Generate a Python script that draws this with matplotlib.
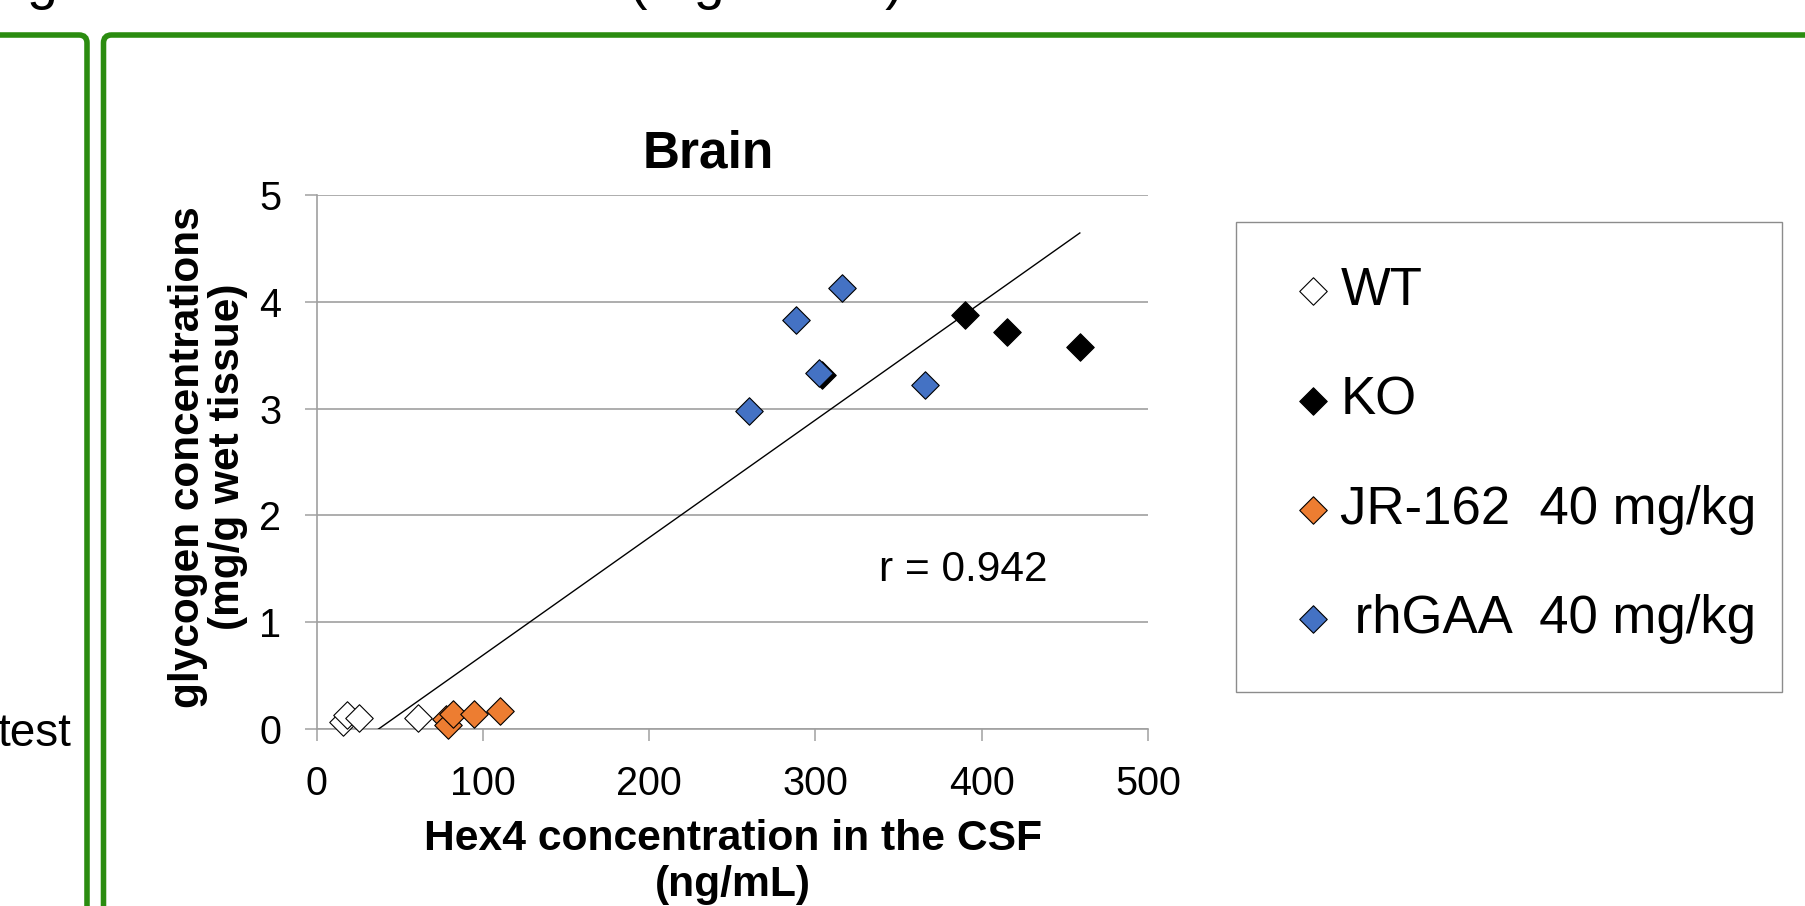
import matplotlib.pyplot as plt
import numpy as np
from matplotlib.patches import FancyBboxPatch, Rectangle

plt.rcParams['font.family'] = ['Liberation Sans', 'DejaVu Sans']

# Hex4 in the CSF (ng/mL) against brain glycogen (mg/g wet tissue)
wt_x = [16, 18, 25.5, 61]
wt_y = [0.07, 0.135, 0.10, 0.10]
ko_x = [304, 390, 415, 459]
ko_y = [3.31, 3.88, 3.72, 3.58]
jr_x = [77.5, 79, 82, 94.5, 110]
jr_y = [0.09, 0.04, 0.14, 0.14, 0.17]
rh_x = [260, 288, 302, 316, 366]
rh_y = [2.98, 3.83, 3.33, 4.13, 3.22]

labels = ['WT', 'KO', 'JR-162  40 mg/kg', ' rhGAA  40 mg/kg']
colors = ['white', 'black', '#ED7D31', '#4472C4']
xticks = [0, 100, 200, 300, 400, 500]
yticks = [0, 1, 2, 3, 4, 5]

W, H = 1806, 906
fig = plt.figure(figsize=(W / 100, H / 100), dpi=100)
ax = fig.add_axes([316.7 / W, 1 - 729 / H, (1148 - 316.7) / W, (729 - 195) / H])

handles = []
for xs, ys, col in zip([wt_x, ko_x, jr_x, rh_x], [wt_y, ko_y, jr_y, rh_y], colors):
    h = ax.scatter(xs, ys, marker='D', s=14 ** 2, c=col, edgecolors='black',
                   linewidths=0.8, clip_on=False, zorder=3)
    handles.append(h)

# linear trendline over all groups
all_x = np.concatenate([wt_x, ko_x, jr_x, rh_x])
all_y = np.concatenate([wt_y, ko_y, jr_y, rh_y])
slope, icpt = np.polyfit(all_x, all_y, 1)
lx = np.array([all_x.min(), all_x.max()])
ax.plot(lx, slope * lx + icpt, color='black', lw=1.0, zorder=4)

ax.set_xlim(0, 500)
ax.set_ylim(0, 5)
ax.set_xticks(xticks)
ax.set_yticks(yticks)
grey = '#A0A0A0'
for s in ['top', 'right']:
    ax.spines[s].set_visible(False)
for s in ['left', 'bottom']:
    ax.spines[s].set_color(grey)
    ax.spines[s].set_linewidth(1.2)
ax.grid(axis='y', color=grey, lw=1.2)
ax.set_axisbelow(True)
ax.tick_params(length=8.6, width=1.1, color=grey, labelsize=28.5, pad=17)

ax.text(389, 1.49, 'r = 0.942', fontsize=30.5, ha='center', va='center')

fig.text(708 / W, 1 - 154 / H, 'Brain', fontsize=37, fontweight='bold',
         ha='center', va='center')
fig.text(208 / W, 1 - 457 / H, 'glycogen concentrations\n(mg/g wet tissue)',
         rotation=90, ha='center', va='center', fontsize=30.5, fontweight='bold',
         linespacing=0.97, multialignment='center')
fig.text(733 / W, 1 - 862 / H, 'Hex4 concentration in the CSF\n(ng/mL)',
         ha='center', va='center', fontsize=30.7, fontweight='bold', linespacing=1.18)

# legend box
fig.add_artist(Rectangle((1236 / W, 1 - 692 / H), (1782 - 1236) / W, (692 - 222) / H,
                         transform=fig.transFigure, fill=False, ec='#8C8C8C', lw=1.0))
fig.legend(handles, labels, loc='center left', bbox_to_anchor=((1313 - 18) / W, 1 - 455 / H),
           frameon=False, fontsize=38, handlelength=0.68, handletextpad=0.18,
           labelspacing=1.12, borderpad=0, borderaxespad=0, scatterpoints=1, markerscale=1.0)

# slide pieces around the chart
fig.text(71 / W, 1 - 734 / H, 'test', ha='right', va='center', fontsize=33)
fig.text(27 / W, 1 + 2 / H, 'glucose tetrasaccharide (mg/tissue)', fontsize=40,
         va='baseline', ha='left')

green = '#2B8C10'
fig.add_artist(FancyBboxPatch((-1.0, -1.0), 0.87 + 1.0, 8.71 + 1.0,
                              boxstyle='round,pad=0,rounding_size=0.08',
                              transform=fig.dpi_scale_trans, fill=False, ec=green, lw=4))
fig.add_artist(FancyBboxPatch((1.035, -1.0), 20, 9.71,
                              boxstyle='round,pad=0,rounding_size=0.08',
                              transform=fig.dpi_scale_trans, fill=False, ec=green, lw=4))

fig.savefig('out.png', dpi=100)
